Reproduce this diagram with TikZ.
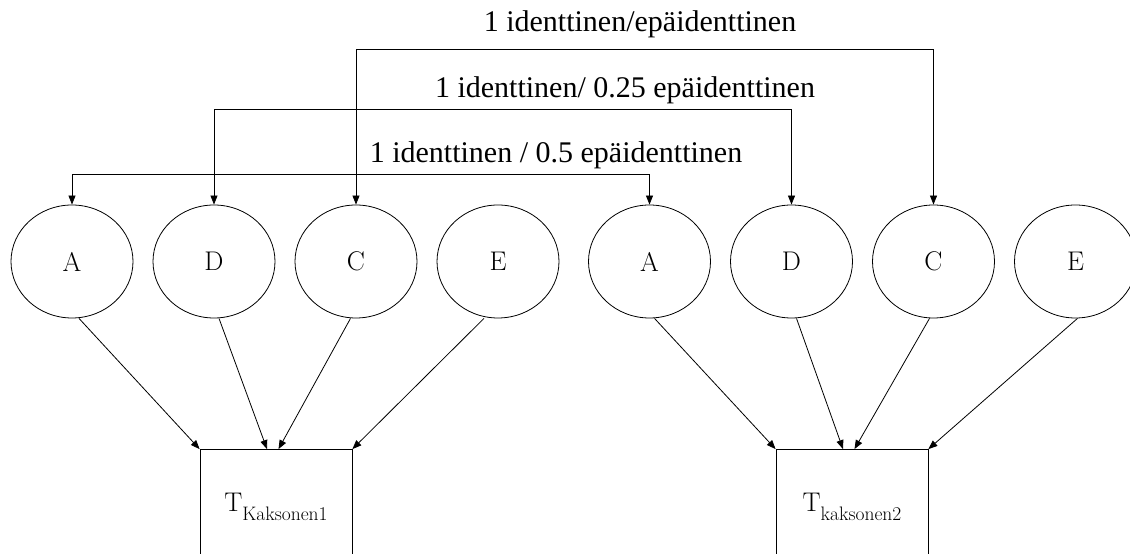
\documentclass[tikz,border=0pt]{standalone}
\usepackage{fontspec}
\setmainfont{Liberation Serif}
\newfontfamily\lmfont{Latin Modern Roman}
\usetikzlibrary{ % tikz packages
    positioning,shapes.geometric,
    arrows.meta
}
\tikzset{factor/.style={
    ellipse, draw,
    inner sep=0pt,
    minimum width=122pt,
    minimum height=113pt,
    font=\lmfont\fontsize{27}{29}\selectfont
}}
\tikzset{twin/.style={
    rectangle, draw,
    minimum width=152pt,
    minimum height=115pt,
    font=\lmfont\fontsize{27}{29}\selectfont
}}
\tikzset{>={Triangle[length=9pt,width=7pt]}}
\newcommand{\twinsub}[1]{T\raisebox{-9pt}{\fontsize{19.5}{21}\selectfont #1}}

\begin{document}
\begin{tikzpicture}[x=1pt,y=1pt,node distance=142pt,on grid,line width=0.8pt,
                    every label text/.style={font=\fontsize{30}{32}\selectfont}]
            \useasboundingbox (0,0) rectangle (1130,554);

            \node[factor] (A1) at (72,292.5) {A};
            \node[factor] (D1) [right=of A1] {D};
            \node[factor] (C1) [right=of D1] {C};
            \node[factor] (E1) [right=of C1] {E};

            \node[factor] (A2) [right=151.5pt of E1] {A};
            \node[factor] (D2) [right=of A2] {D};
            \node[factor] (C2) [right=of D2] {C};
            \node[factor] (E2) [right=of C2] {E};

            \node[twin] (T1) at (276,47) {\twinsub{Kaksonen1}};
            \node[twin] (T2) at (852,47) {\twinsub{kaksonen2}};

            \path[->]
                ([xshift=7pt]A1.south)
                    edge (T1.north west)
                ([xshift=5pt]D1.south)
                    edge ([xshift=-9pt]T1.north)
                ([xshift=-5.5pt]C1.south)
                    edge ([xshift=2.5pt]T1.north)
                ([xshift=-14pt]E1.south)
                    edge (T1.north east)
                ([xshift=5pt]A2.south)
                    edge (T2.north west)
                ([xshift=5pt]D2.south)
                    edge ([xshift=-9pt]T2.north)
                ([xshift=-4pt]C2.south)
                    edge ([xshift=2.5pt]T2.north)
                ([xshift=2pt]E2.south)
                    edge (T2.north east);

            % twin correlations
            \draw[<->] (A1.north) -- ++(0,30) -| (A2.north);
            \draw[<->] (D1.north) -- ++(0,95) -| (D2.north);
            \draw[<->] (C1.north) -- ++(0,155) -| (C2.north);

            \node[every label text] (rA) at (556,399) {1 identtinen / 0.5 epäidenttinen};
            \node[every label text] (rD) at (625,464) {1 identtinen/ 0.25 epäidenttinen};
            \node[every label text] (rC) at (640,530) {1 identtinen/epäidenttinen};
\end{tikzpicture}
\end{document}
